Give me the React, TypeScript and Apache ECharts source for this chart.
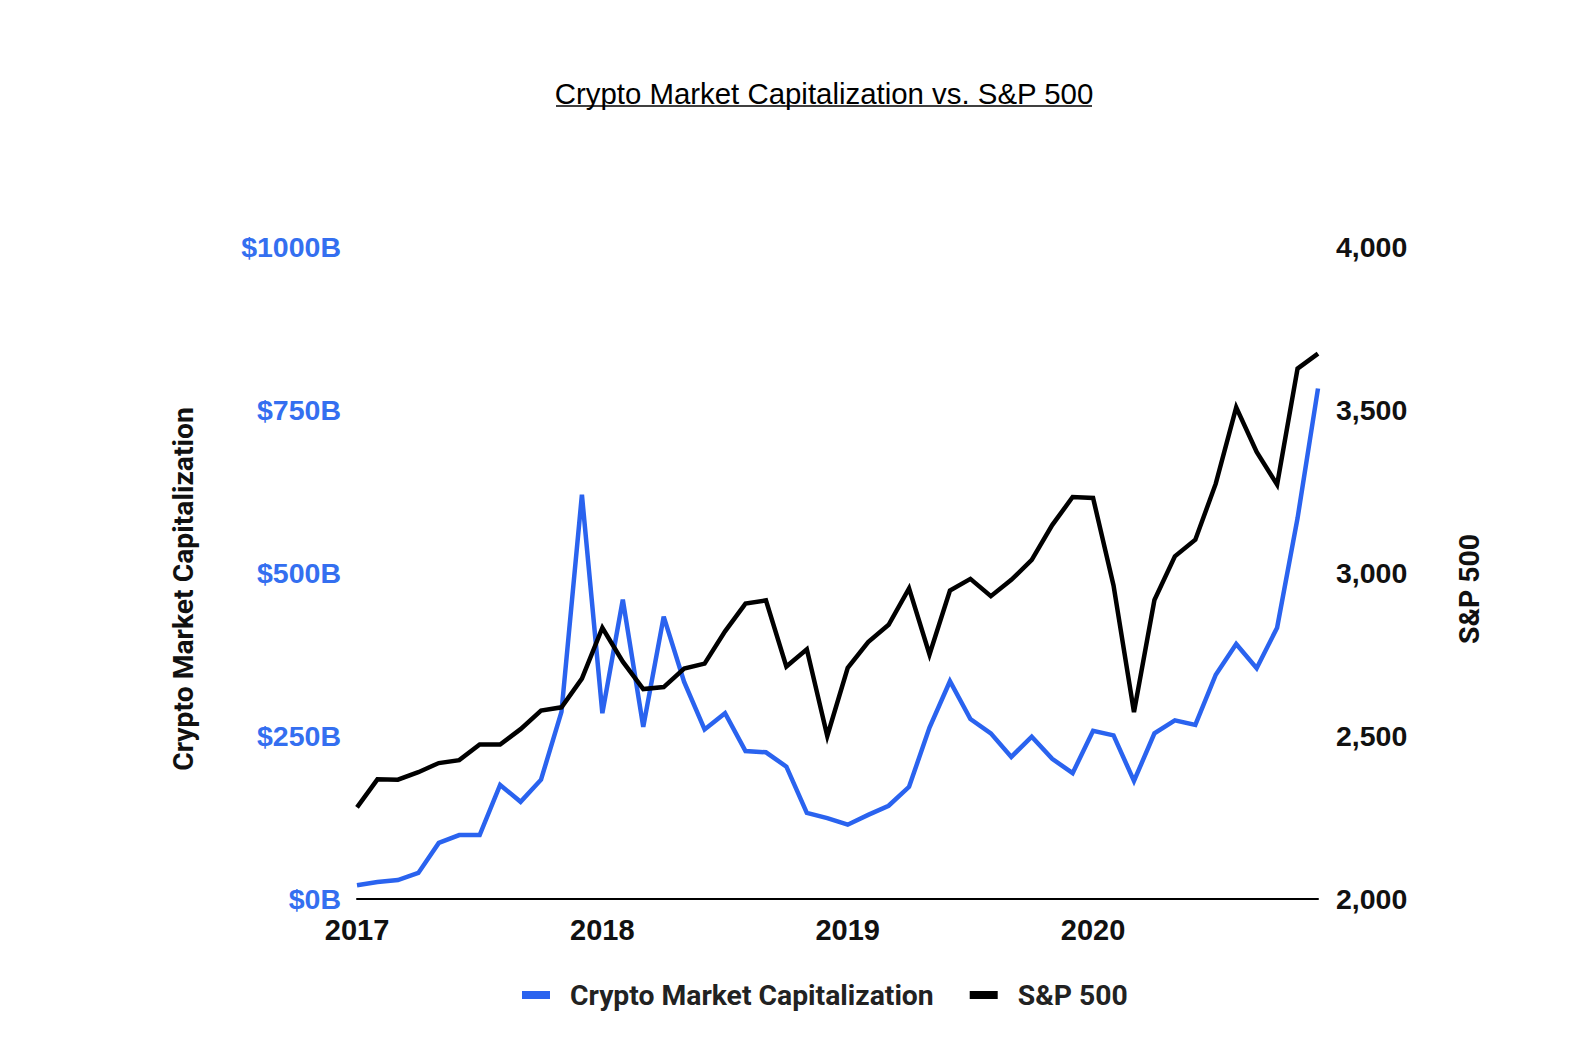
import React, { useEffect, useRef } from "react";
import * as echarts from "echarts";

const titleText = "Crypto Market Capitalization vs. S&P 500";
const leftAxisTitle = "Crypto Market Capitalization";
const rightAxisTitle = "S&P 500";
const seriesNames = ["Crypto Market Capitalization", "S&P 500"];

const months = [
  "Jan 2017", "Feb 2017", "Mar 2017", "Apr 2017", "May 2017", "Jun 2017",
  "Jul 2017", "Aug 2017", "Sep 2017", "Oct 2017", "Nov 2017", "Dec 2017",
  "Jan 2018", "Feb 2018", "Mar 2018", "Apr 2018", "May 2018", "Jun 2018",
  "Jul 2018", "Aug 2018", "Sep 2018", "Oct 2018", "Nov 2018", "Dec 2018",
  "Jan 2019", "Feb 2019", "Mar 2019", "Apr 2019", "May 2019", "Jun 2019",
  "Jul 2019", "Aug 2019", "Sep 2019", "Oct 2019", "Nov 2019", "Dec 2019",
  "Jan 2020", "Feb 2020", "Mar 2020", "Apr 2020", "May 2020", "Jun 2020",
  "Jul 2020", "Aug 2020", "Sep 2020", "Oct 2020", "Nov 2020", "Dec 2020",
];

// Crypto market capitalization, billions of USD
const cryptoCap = [
  21, 26, 29, 40, 86, 98, 98, 175, 149, 183, 287, 620,
  285, 459, 264, 433, 333, 260, 285, 227, 225, 203, 132, 124,
  114, 129, 143, 172, 263, 334, 276, 254, 218, 249, 215, 193,
  258, 251, 181, 254, 274, 267, 344, 391, 354, 416, 584, 783,
];

// S&P 500 index level
const sp500 = [
  2281, 2367, 2366, 2389, 2417, 2426, 2474, 2474, 2521, 2578, 2588, 2676,
  2832, 2728, 2644, 2650, 2707, 2722, 2821, 2906, 2916, 2713, 2766, 2500,
  2709, 2788, 2841, 2953, 2750, 2946, 2982, 2929, 2979, 3040, 3147, 3233,
  3230, 2962, 2573, 2917, 3051, 3102, 3274, 3508, 3371, 3271, 3627, 3673,
];

const leftTicks = { min: 0, max: 1000, interval: 250 };
const rightTicks = { min: 2000, max: 4000, interval: 500 };

const BLUE = "#2a63ef";
const BLUE_LABEL = "#346ff0";

export default function App() {
  const ref = useRef<HTMLDivElement>(null);

  useEffect(() => {
    if (!ref.current) return;
    const chart = echarts.init(ref.current, undefined, { renderer: "svg" });
    const tickFont = {
      fontFamily: "'Liberation Sans', Arial, Helvetica, sans-serif",
      fontWeight: "bold" as const,
      fontSize: 28.5,
    };
    const nameFont = {
      fontFamily: "Roboto, sans-serif",
      fontWeight: "bold" as const,
      fontSize: 28.3,
    };
    chart.setOption({
      animation: false,
      backgroundColor: "#ffffff",
      title: {
        text: titleText,
        left: 819,
        top: 74,
        textAlign: "center",
        textStyle: {
          fontFamily: "'Liberation Sans', Arial, sans-serif",
          fontWeight: "normal",
          fontSize: 29.4,
          color: "#000",
        },
      },
      graphic: [
        {
          type: "line",
          shape: { x1: 556, y1: 106, x2: 1092, y2: 106 },
          style: { stroke: "#000", lineWidth: 1.6 },
        },
        {
          type: "text",
          x: 183,
          y: 589,
          rotation: Math.PI / 2,
          style: {
            text: leftAxisTitle,
            ...nameFont,
            fill: "#111",
            align: "center",
            verticalAlign: "middle",
          },
        },
        {
          type: "text",
          x: 1469,
          y: 589,
          rotation: Math.PI / 2,
          style: {
            text: rightAxisTitle,
            ...nameFont,
            fill: "#111",
            align: "center",
            verticalAlign: "middle",
          },
        },
      ],
      legend: {
        left: 517,
        top: 976,
        itemWidth: 28,
        itemHeight: 8,
        itemGap: 36,
        textStyle: {
          ...nameFont,
          color: "#222",
          padding: [0, 0, 0, 15],
        },
        data: [
          { name: seriesNames[0], icon: "rect", itemStyle: { color: BLUE } },
          { name: seriesNames[1], icon: "rect", itemStyle: { color: "#000" } },
        ],
      },
      grid: { left: 357, right: 278, top: 247, bottom: 143 },
      xAxis: {
        type: "category",
        data: months,
        boundaryGap: false,
        axisLine: { show: true, lineStyle: { color: "#000", width: 2 } },
        axisTick: { show: false },
        splitLine: { show: false },
        axisLabel: {
          ...tickFont,
          fontSize: 29,
          color: "#111",
          interval: 11,
          margin: 16,
          formatter: (v: string) => v.split(" ")[1],
        },
      },
      yAxis: [
        {
          type: "value",
          ...leftTicks,
          axisLine: { show: false },
          axisTick: { show: false },
          splitLine: { show: false },
          axisLabel: {
            ...tickFont,
            color: BLUE_LABEL,
            margin: 16,
            formatter: (v: number) => "$" + v + "B",
          },
        },
        {
          type: "value",
          ...rightTicks,
          position: "right",
          axisLine: { show: false },
          axisTick: { show: false },
          splitLine: { show: false },
          axisLabel: {
            ...tickFont,
            color: "#111",
            margin: 18,
            formatter: (v: number) => v.toLocaleString("en-US"),
          },
        },
      ],
      series: [
        {
          name: seriesNames[0],
          type: "line",
          yAxisIndex: 0,
          data: cryptoCap,
          showSymbol: false,
          symbol: "none",
          lineStyle: { color: BLUE, width: 4.5, join: "miter" },
          itemStyle: { color: BLUE },
        },
        {
          name: seriesNames[1],
          type: "line",
          yAxisIndex: 1,
          data: sp500,
          showSymbol: false,
          symbol: "none",
          lineStyle: { color: "#000", width: 4.5, join: "miter" },
          itemStyle: { color: "#000" },
        },
      ],
    });
    return () => chart.dispose();
  }, []);

  return (
    <div
      ref={ref}
      style={{
        position: "fixed",
        left: 0,
        top: 0,
        width: 1596,
        height: 1042,
        background: "#fff",
      }}
    />
  );
}
